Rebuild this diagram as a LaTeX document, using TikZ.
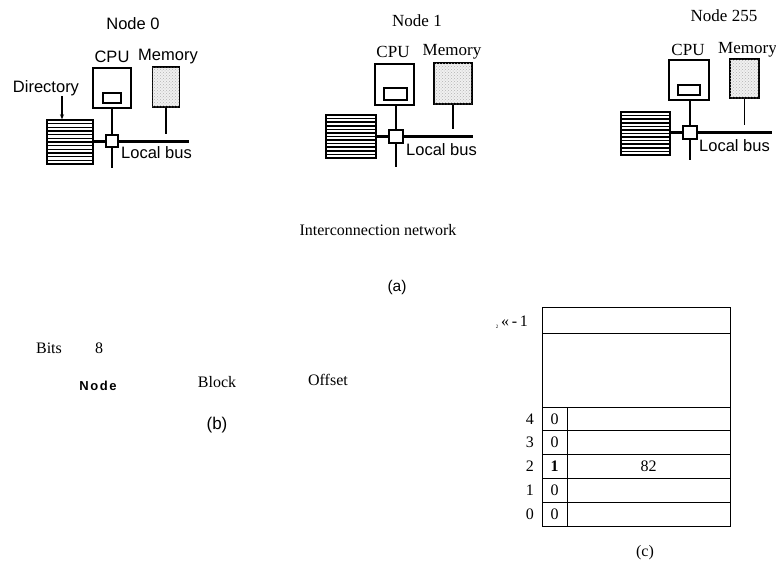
\documentclass[tikz,border=0pt]{standalone}
\usepackage{fontspec}
\setmainfont{Liberation Serif}
\setsansfont{Liberation Sans}
\usetikzlibrary{calc,patterns,arrows.meta}
\begin{document}
\begin{tikzpicture}[x=1pt,y=-1pt,
  sanslbl/.style={inner sep=0pt, font=\sffamily\fontsize{16.5}{18}\selectfont},
  serlbl/.style={inner sep=0pt, font=\fontsize{17}{19}\selectfont},
  txt/.style={inner sep=0pt, font=\fontsize{16}{18}\selectfont},
  cpubox/.style={draw, line width=1.5pt, inner sep=0pt},
  innerbox/.style={draw, line width=1.3pt, inner sep=0pt},
  membox/.style={draw, line width=1.5pt, inner sep=0pt, fill=gray!12,
     postaction={pattern=crosshatch dots, pattern color=gray!60}},
  dirbox/.style={draw, line width=1.4pt, inner sep=0pt,
     path picture={\foreach \k in {1,...,11}{\draw[line width=1.6pt]
       ($(path picture bounding box.north west)!\k/12!(path picture bounding box.south west)$) --
       ($(path picture bounding box.north east)!\k/12!(path picture bounding box.south east)$);}}},
  jbox/.style={draw, line width=1.2pt, fill=white, inner sep=0pt},
  bus/.style={line width=3pt},
  wire/.style={line width=1.2pt},
  cell/.style={draw, line width=0.8pt, inner sep=0pt}
]
\useasboundingbox (0,0) rectangle (776,563);

% ---------------- Node 0 ----------------
\node[sanslbl] (n0lab) at (133,24) {Node 0};
\node[sanslbl] (cpulab0) at (112,57) {CPU};
\node[sanslbl] (memlab0) at (168,57) {Memory};
\node[sanslbl] (dirlab0) at (46,88) {Directory};
\node[cpubox, minimum width=38pt, minimum height=40pt] (cpu0) at (112,88) {};
\node[innerbox, minimum width=18pt, minimum height=10pt] (inner0) at (112,98) {};
\node[membox, minimum width=27pt, minimum height=40pt] (mem0) at (166,87) {};
\node[dirbox, minimum width=46pt, minimum height=44pt] (dir0) at (70,142) {};
\node[jbox, minimum width=12pt, minimum height=12pt] (jn0) at (112,141) {};
\coordinate (busend0) at (189,141);
\coordinate (down0) at (112,168);
\draw[bus] (dir0.east |- jn0) -- (jn0.west);
\draw[bus] (jn0.east) -- (busend0);
\draw[wire] (cpu0.south) -- (jn0.north);
\draw[wire] (jn0.south) -- (down0);
\draw[wire] (mem0.south) -- (mem0.south |- jn0.north);
\draw[wire, -{Stealth[length=5pt,width=4pt]}] ([xshift=16pt]dirlab0.south) -- ([xshift=16pt]dirlab0.south |- dir0.north);
\node[sanslbl, anchor=west] (lb0) at (121,153) {Local bus};

% ---------------- Node 1 ----------------
\node[serlbl] (n1lab) at (417,21) {Node 1};
\node[serlbl] (cpulab1) at (393,52) {CPU};
\node[serlbl] (memlab1) at (452,52) {Memory};
\node[cpubox, minimum width=39pt, minimum height=41pt] (cpu1) at (394.5,84.5) {};
\node[innerbox, minimum width=23pt, minimum height=12pt] (inner1) at (395.5,94) {};
\node[membox, minimum width=38pt, minimum height=41pt] (mem1) at (453,83.5) {};
\node[dirbox, minimum width=50pt, minimum height=43pt] (dir1) at (351,136.5) {};
\node[jbox, minimum width=14pt, minimum height=13pt] (jn1) at (396,136.5) {};
\coordinate (busend1) at (473,136.5);
\coordinate (down1) at (396,167);
\draw[bus] (dir1.east |- jn1) -- (jn1.west);
\draw[bus] (jn1.east) -- (busend1);
\draw[wire] (cpu1.south -| jn1) -- (jn1.north);
\draw[wire] (jn1.south) -- (down1);
\draw[wire] (mem1.south) -- (mem1.south |- jn1.north);
\node[sanslbl, anchor=west] (lb1) at (406,150) {Local bus};

% ---------------- Node 255 ----------------
\node[serlbl] (n2lab) at (724,16) {Node 255};
\node[serlbl] (cpulab2) at (688,50) {CPU};
\node[serlbl, anchor=west] (memlab2) at (718,50) {Memory};
\node[cpubox, minimum width=40pt, minimum height=40pt] (cpu2) at (689,80) {};
\node[innerbox, minimum width=22pt, minimum height=10pt] (inner2) at (689,90) {};
\node[membox, minimum width=29pt, minimum height=39pt] (mem2) at (744.5,78.5) {};
\node[dirbox, minimum width=49pt, minimum height=43pt] (dir2) at (645.5,133.5) {};
\node[jbox, minimum width=14pt, minimum height=13pt] (jn2) at (690,132.5) {};
\coordinate (busend2) at (772,132.5);
\coordinate (down2) at (690,160);
\draw[bus] (dir2.east |- jn2) -- (jn2.west);
\draw[bus] (jn2.east) -- (busend2);
\draw[wire] (cpu2.south -| jn2) -- (jn2.north);
\draw[wire] (jn2.south) -- (down2);
\draw[wire] (mem2.south) -- (mem2.south |- jn2.north);
\node[sanslbl, anchor=west] (lb2) at (699,146) {Local bus};

% ---------------- captions (a) ----------------
\node[txt] (icn) at (378,230) {Interconnection network};
\node[inner sep=0pt, font=\sffamily\fontsize{15.5}{17}\selectfont] (capa) at (397,287) {(a)};

% ---------------- (b) ----------------
\node[txt] (bits) at (49,348) {Bits};
\node[txt] (eight) at (99,348) {8};
\node[inner sep=0pt, font=\sffamily\bfseries\fontsize{13}{15}\selectfont\addfontfeature{LetterSpace=12}] (nodef) at (98,386) {Node};
\node[txt] (blockf) at (217,382) {Block};
\node[txt] (offf) at (328,380) {Offset};
\node[inner sep=0pt, font=\sffamily\fontsize{17}{19}\selectfont] (capb) at (217,425) {(b)};

% ---------------- (c) table ----------------
\node[cell, minimum width=188pt, minimum height=26pt] (toprow) at (636,320) {};
\node[cell, minimum width=188pt, minimum height=74pt] (midrow) at (636,370) {};
\foreach \r/\b/\d [count=\i from 0] in {4/0/{}, 3/0/{}, 2/{\textbf{1}}/82, 1/0/{}, 0/0/{}} {
  \node[cell, minimum width=25pt, minimum height=23.8pt, font=\fontsize{16}{18}\selectfont] (bit\r) at (554.5,{407+23.8*(\i+0.5)}) {\b};
  \node[cell, minimum width=163pt, minimum height=23.8pt, font=\fontsize{16}{18}\selectfont] (dat\r) at (648.5,{407+23.8*(\i+0.5)}) {\d};
  \node[txt, anchor=east] (lab\r) at (534,{407+23.8*(\i+0.5)}) {\r};
}
\node[txt, anchor=east] (labtop) at (528,322) {\raisebox{-0.3ex}{\fontsize{5}{6}\selectfont 2}\,«\,-\,1};
\node[txt] (capc) at (645,553) {(c)};
\end{tikzpicture}
\end{document}
